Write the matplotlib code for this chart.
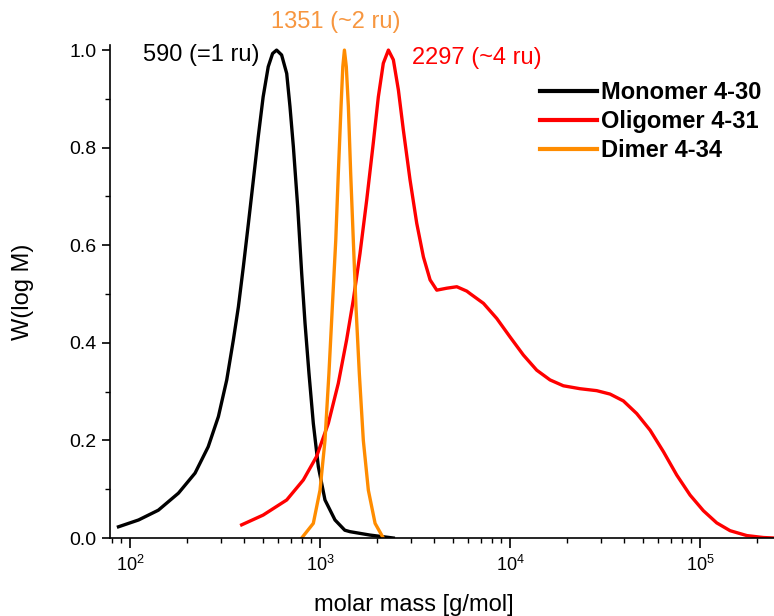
import matplotlib
matplotlib.use("Agg")
import matplotlib.pyplot as plt
from matplotlib.ticker import LogLocator, MultipleLocator, FormatStrFormatter

plt.rcParams["font.family"] = ["Liberation Sans", "DejaVu Sans"]
plt.rcParams["mathtext.fontset"] = "custom"
plt.rcParams["mathtext.rm"] = "Liberation Sans"
plt.rcParams["mathtext.it"] = "Liberation Sans:italic"
plt.rcParams["mathtext.bf"] = "Liberation Sans:bold"

# values (molar mass in g/mol, W(log M))
mono_M = [87, 111, 141, 180, 220, 258, 292, 323, 350, 372, 395, 420, 446, 473, 502,
          534, 563, 591, 628, 668, 695, 724, 763, 801, 834, 875, 922, 980, 1062,
          1199, 1350, 1438, 1834, 2430]
mono_W = [0.023, 0.037, 0.057, 0.092, 0.133, 0.187, 0.249, 0.324, 0.406, 0.474, 0.556,
          0.645, 0.734, 0.822, 0.904, 0.966, 0.993, 1.0, 0.99, 0.952, 0.884, 0.802,
          0.679, 0.542, 0.44, 0.337, 0.235, 0.146, 0.078, 0.037, 0.016, 0.013, 0.006, 0.0]

oligo_M = [387, 502, 668, 817, 959, 1106, 1248, 1380, 1497, 1623, 1761, 1906, 2027,
           2153, 2290, 2432, 2585, 2745, 2976, 3228, 3500, 3795, 4115, 4645, 5245,
           5920, 6155, 7244, 8510, 10000, 11750, 13810, 16230, 19070, 23340, 28570,
           33580, 39460, 46400, 54550, 64100, 75340, 88540, 104000, 122300, 143800,
           176100, 215300, 245000]
oligo_W = [0.027, 0.047, 0.078, 0.119, 0.167, 0.235, 0.317, 0.406, 0.488, 0.583,
           0.693, 0.809, 0.904, 0.973, 1.0, 0.98, 0.918, 0.836, 0.734, 0.645, 0.576,
           0.529, 0.508, 0.512, 0.515, 0.506, 0.501, 0.481, 0.45, 0.412, 0.375, 0.344,
           0.324, 0.312, 0.306, 0.302, 0.295, 0.281, 0.255, 0.221, 0.177, 0.129, 0.088,
           0.056, 0.031, 0.015, 0.005, 0.001, 0.0]

dimer_M = [801, 922, 1000, 1062, 1114, 1161, 1210, 1248, 1290, 1318, 1344, 1375, 1410,
           1450, 1497, 1546, 1610, 1690, 1796, 1949, 2153]
dimer_W = [0.0, 0.03, 0.098, 0.2, 0.337, 0.474, 0.61, 0.747, 0.884, 0.966, 1.0, 0.966,
           0.884, 0.747, 0.61, 0.474, 0.337, 0.2, 0.098, 0.03, 0.0]

labels = ["Monomer 4-30", "Oligomer 4-31", "Dimer 4-34"]
colors = ["black", "#ff0000", "#ff8c00"]

fig = plt.figure(figsize=(7.74, 6.16), dpi=100)
ax = fig.add_axes([0.1421, 0.1266, 0.858, 0.80])

ax.plot(mono_M, mono_W, color=colors[0], lw=2.4, label=labels[0], solid_joinstyle="round")
ax.plot(oligo_M, oligo_W, color=colors[1], lw=2.4, label=labels[1], solid_joinstyle="round")
ax.plot(dimer_M, dimer_W, color=colors[2], lw=2.4, label=labels[2], solid_joinstyle="round")

ax.set_xscale("log")
ax.set_xlim(78.5, 2.45e5)
ax.set_ylim(0, 1.01)

ax.spines["top"].set_visible(False)
ax.spines["right"].set_visible(False)
ax.spines["left"].set_linewidth(1.2)
ax.spines["bottom"].set_linewidth(1.2)

ax.yaxis.set_major_locator(MultipleLocator(0.2))
ax.yaxis.set_minor_locator(MultipleLocator(0.1))
ax.yaxis.set_major_formatter(FormatStrFormatter("%.1f"))
ax.xaxis.set_major_locator(LogLocator(base=10, numticks=10))
ax.xaxis.set_minor_locator(LogLocator(base=10, subs=range(2, 10), numticks=20))

ax.tick_params(which="major", direction="out", length=6, width=1.2, labelsize=14)
ax.tick_params(which="minor", direction="out", length=3.5, width=1.0)
ax.tick_params(axis="x", which="major", length=7.5, labelsize=13, pad=5)

ax.set_ylabel("W(log M)", fontsize=17)
ax.yaxis.set_label_coords(-0.114, 0.5)
ax.set_xlabel("molar mass [g/mol]", fontsize=17)
ax.xaxis.set_label_coords(0.458, -0.113)

ax.text(483, 0.99, "590 (=1 ru)", color="black", fontsize=17, ha="right", va="center")
ax.text(1213, 1.057, "1351 (~2 ru)", color="#f7963f", fontsize=17, ha="center", va="center",
        clip_on=False)
ax.text(3048, 0.984, "2297 (~4 ru)", color="#ff0000", fontsize=17, ha="left", va="center")

leg = ax.legend(loc="upper left", bbox_to_anchor=(0.6476, 0.927), frameon=False,
                borderpad=0, borderaxespad=0, handlelength=2.4, handletextpad=0.2,
                labelspacing=0.25, prop={"weight": "bold", "size": 17})
for line in leg.get_lines():
    line.set_linewidth(3)

fig.savefig("out.png", dpi=100)
